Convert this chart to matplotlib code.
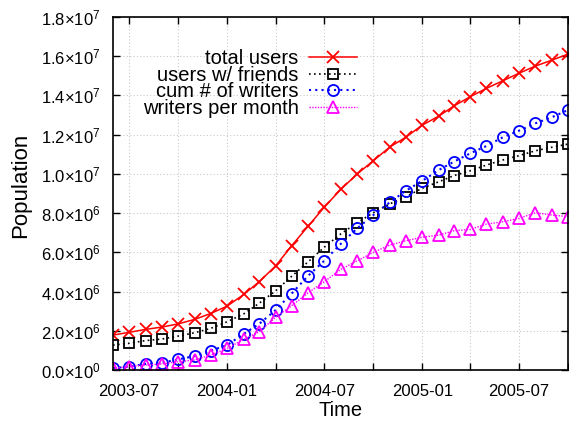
import matplotlib
matplotlib.use('Agg')
import matplotlib.pyplot as plt
import matplotlib.dates as mdates
from matplotlib.ticker import FuncFormatter, MultipleLocator
import pandas as pd

plt.rcParams['font.family'] = ['Liberation Sans', 'DejaVu Sans']
plt.rcParams['mathtext.fontset'] = 'custom'
plt.rcParams['mathtext.rm'] = 'Liberation Sans'
plt.rcParams['mathtext.it'] = 'Liberation Sans'

# monthly samples, 2003-06 .. 2005-10
months = pd.date_range('2003-06-01', periods=29, freq='MS')

# values in millions
total_users = [1.78, 1.92, 2.07, 2.19, 2.35, 2.58, 2.88, 3.26, 3.85, 4.5, 5.31, 6.34,
               7.34, 8.3, 9.21, 10.0, 10.67, 11.37, 11.87, 12.49, 12.95, 13.46, 13.94,
               14.36, 14.75, 15.13, 15.5, 15.8, 16.11]
users_w_friends = [1.27, 1.36, 1.5, 1.58, 1.73, 1.9, 2.12, 2.46, 2.86, 3.4, 4.04, 4.78,
                   5.52, 6.26, 6.94, 7.51, 8.02, 8.47, 8.84, 9.27, 9.6, 9.91, 10.16,
                   10.45, 10.71, 10.93, 11.18, 11.36, 11.52]
cum_writers = [0.09, 0.17, 0.31, 0.37, 0.54, 0.71, 0.98, 1.27, 1.84, 2.35, 3.06, 3.9,
               4.81, 5.57, 6.43, 7.23, 7.9, 8.55, 9.14, 9.65, 10.2, 10.62, 11.05,
               11.42, 11.87, 12.2, 12.58, 12.89, 13.26]
writers_per_month = [0.09, 0.17, 0.25, 0.31, 0.42, 0.51, 0.76, 1.1, 1.56, 1.95, 2.69, 3.28,
                     3.94, 4.5, 5.13, 5.57, 6.0, 6.37, 6.59, 6.77, 6.88, 7.1, 7.17,
                     7.44, 7.56, 7.73, 8.02, 7.9, 7.82]

series = [
    ('total users', total_users, dict(color='red', ls='-', lw=1.1, marker='x', ms=8, mew=1.3)),
    ('users w/ friends', users_w_friends, dict(color='black', ls=(0, (1, 2)), lw=1.2, marker='s', ms=7.5, mew=1.3, mfc='none')),
    ('cum # of writers', cum_writers, dict(color='blue', ls=(0, (1, 2)), lw=1.5, marker='o', ms=8, mew=1.3, mfc='none')),
    ('writers per month', writers_per_month, dict(color='magenta', ls=(0, (1, 1)), lw=1.0, marker='^', ms=8, mew=1.3, mfc='none')),
]

fig = plt.figure(figsize=(5.69, 4.23), dpi=100)
ax = fig.add_axes([113/569, 53/423, 455/569, 353/423])

for label, vals, style in series:
    ax.plot(months, [v * 1e6 for v in vals], label=label, **style)

ax.set_xlim(pd.Timestamp('2003-06-01'), pd.Timestamp('2005-10-01'))
ax.set_ylim(0, 1.8e7)

ax.xaxis.set_major_locator(mdates.MonthLocator(bymonth=[1, 4, 7, 10]))
ax.xaxis.set_major_formatter(FuncFormatter(
    lambda x, pos: mdates.num2date(x).strftime('%Y-%m') if mdates.num2date(x).month in (1, 7) else ''))
ax.yaxis.set_major_locator(MultipleLocator(2e6))


def sci(v, pos):
    if v == 0:
        return r'$0.0{\times}10^{0}$'
    e = len(str(int(v))) - 1
    return r'$%.1f{\times}10^{%d}$' % (v / 10**e, e)


ax.yaxis.set_major_formatter(FuncFormatter(sci))

ax.tick_params(direction='in', length=5, width=1, top=True, right=True, labelsize=12)
ax.tick_params(axis='x', pad=10)
ax.tick_params(axis='y', pad=9)
ax.grid(True, color='#c8c8c8', ls=(0, (1, 2)), lw=0.8)
for s in ax.spines.values():
    s.set_linewidth(1.2)

ax.set_xlabel('Time', fontsize=14.5, va='center')
ax.xaxis.set_label_coords(0.5, -0.116)
ax.set_ylabel('Population', fontsize=16, va='center')
ax.yaxis.set_label_coords(-0.202, 0.524)

ax.legend(loc='upper right', bbox_to_anchor=(357/569, 1 - 49/423), bbox_transform=fig.transFigure,
          frameon=False, markerfirst=False, fontsize=14.5, labelspacing=-0.12,
          handlelength=2.4, handletextpad=0.5, borderpad=0, borderaxespad=0)

fig.savefig('out.png', dpi=100)
